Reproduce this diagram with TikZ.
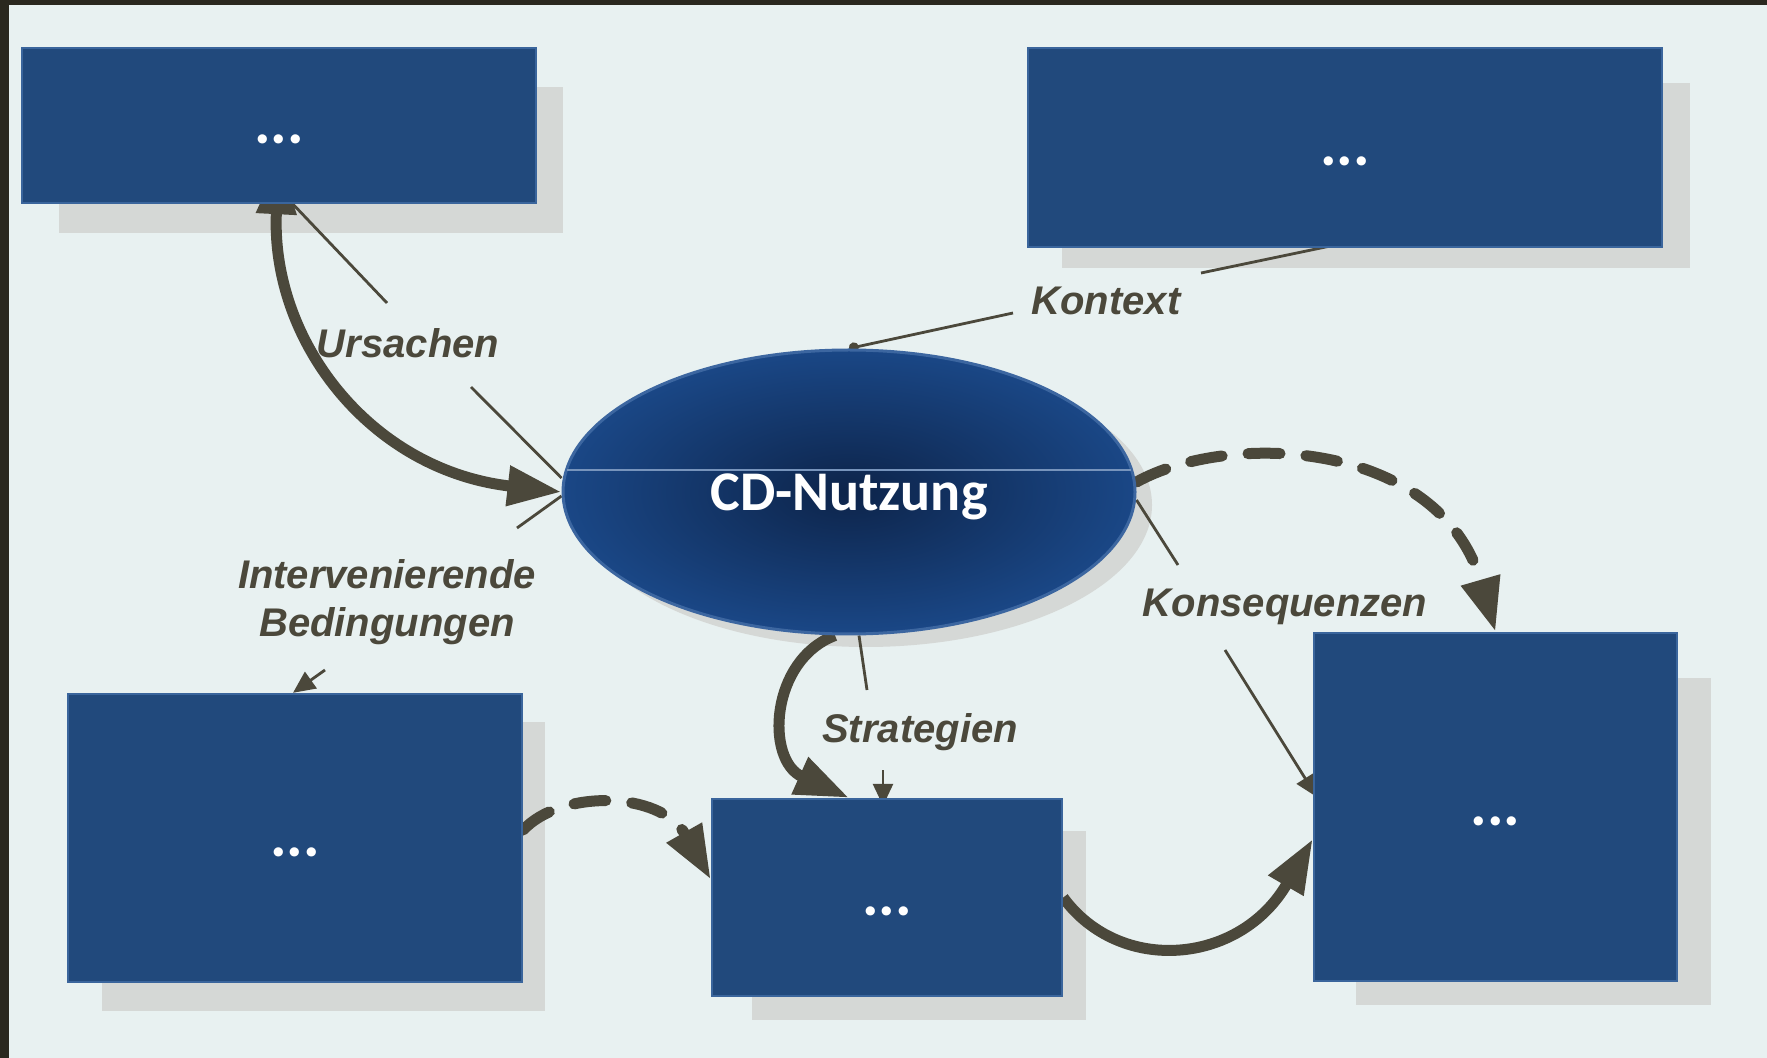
\documentclass[tikz,border=0pt]{standalone}
\usepackage{fontspec}
\newfontfamily\scanfont{Liberation Sans}
\newfontfamily\slidefont{Carlito}
\usetikzlibrary{arrows.meta,shapes.geometric,calc}

\definecolor{scanbg}{HTML}{E8F1F1}
\definecolor{frame}{HTML}{2A281F}
\definecolor{grain}{HTML}{D5D8D6}
\definecolor{ink}{HTML}{4B483B}
\definecolor{boxblue}{HTML}{21497C}
\definecolor{boxrim}{HTML}{3A659C}
\definecolor{ovalcore}{HTML}{0D244A}
\definecolor{ovaledge}{HTML}{1A4786}
\definecolor{ovalrim}{HTML}{3C66A0}

\pgfdeclarelayer{paper}
\pgfdeclarelayer{scan}
\pgfsetlayers{paper,scan,main}

\begin{document}
\begin{tikzpicture}[
        x=0.5pt, y=-0.5pt,
        >={Triangle[length=27pt,width=19pt]},
        panel/.style={
            rectangle,
            draw=boxrim,
            line width=1.2pt,
            fill=boxblue,
            text=white,
            font=\slidefont\bfseries\fontsize{31}{34}\selectfont,
            text height=18pt,
            text depth=0pt,
            inner sep=0pt
        },
        oval/.style={
            ellipse,
            draw=ovalrim,
            line width=1.5pt,
            shade,
            inner color=ovalcore,
            outer color=ovaledge,
            minimum width=286pt,
            minimum height=142pt,
            text=white,
            text depth=0pt,
            font=\slidefont\bfseries\fontsize{28}{32}\selectfont
        },
        tag/.style={
            font=\scanfont\bfseries\itshape\fontsize{20}{24.5}\selectfont,
            text=ink,
            inner sep=0pt,
            anchor=base,
            align=center
        },
        flow/.style={->, line width=5.5pt, draw=ink},
        dashflow/.style={flow, line cap=round, dash pattern=on 16pt off 13pt},
        leader/.style={line width=1.4pt, draw=ink},
        pointer/.style={leader, -{Triangle[length=11pt,width=10pt]}}
    ]

    \useasboundingbox (0,0) rectangle (1767,1058);

    % scanned page behind the slide
    \begin{pgfonlayer}{paper}
        \fill[scanbg] (0,0) rectangle (1767,1058);
        \fill[frame] (0,0) rectangle (9,1058);
        \fill[frame] (0,0) rectangle (1767,5);
        \fill[grain] (59,87) rectangle (563,233);
        \fill[grain] (1062,83) rectangle (1690,268);
        \fill[grain] (102,722) rectangle (545,1011);
        \fill[grain] (752,831) rectangle (1086,1020);
        \fill[grain] (1356,678) rectangle (1711,1005);
        \fill[grain] (866,505) ellipse [x radius=286, y radius=142];
    \end{pgfonlayer}

    \node[panel, minimum width=257pt, minimum height=77.5pt] (ursache)    at (279,125.5)  {...};
    \node[panel, minimum width=317pt, minimum height=99.5pt] (kontextbox) at (1345,147.5) {...};
    \node[panel, minimum width=227pt, minimum height=144pt]  (bedingung)  at (295,838)    {...};
    \node[panel, minimum width=175pt, minimum height=98.5pt] (strategie)  at (887,897.5)  {...};
    \node[panel, minimum width=181.5pt, minimum height=174pt] (konsequenz) at (1495.5,807) {...};

    \node[oval] (nutzung) at (849,492) {CD-Nutzung};
    \draw[line width=0.6pt, ovalrim!70!white] ($(nutzung.center)+(-282,-22)$) -- ($(nutzung.center)+(282,-22)$);

    \node[tag] (ursachen)       at (408,358)  {Ursachen};
    \node[tag] (kontext)        at (1106,315) {Kontext};
    \node[tag] (intervenierend) at (387,637)  {Intervenierende\\Bedingungen};
    \node[tag] (strategien)     at (920,742)  {Strategien};
    \node[tag] (konsequenzen)   at (1285,617) {Konsequenzen};

    % leader ends beside the labels
    \coordinate (ursachen-in)   at (387,303);
    \coordinate (ursachen-out)  at (471,387);
    \coordinate (kontext-in)    at (1201,273);
    \coordinate (kontext-out)   at (1013,313);
    \coordinate (bedingung-in)  at (517,528);
    \coordinate (bedingung-out) at (325,670);
    \coordinate (strategien-in) at (867,690);
    \coordinate (strategien-out) at (883,770);
    \coordinate (konsequenz-in) at (1178,565);
    \coordinate (konsequenz-out) at (1225,650);

    \begin{pgfonlayer}{scan}
        \draw[flow, <->] ([yshift=22pt]ursache.south) .. controls (270,340) and (370,470) .. (nutzung.west);
        \draw[flow] ([xshift=-7pt]nutzung.south) .. controls (770,660) and (765,760) .. ([xshift=-19pt]strategie.north);
        \draw[dashflow] ([yshift=5pt]nutzung.east) .. controls (1230,430) and (1440,440) .. (konsequenz.north);
        \draw[flow] (strategie.east) .. controls (1120,975) and (1240,965) .. ([yshift=-16pt]konsequenz.west);
        \draw[dashflow] ([yshift=4pt]bedingung.east) .. controls (560,790) and (660,790) .. ([yshift=9pt]strategie.west);

        \draw[leader] ([xshift=7pt]ursache.south) -- (ursachen-in);
        \draw[leader] (ursachen-out) -- ([yshift=7pt]nutzung.west);
        \draw[leader, -{Circle[length=5pt]}] (kontext-out) -- (nutzung.north);
        \draw[leader] (kontext-in) -- ([xshift=-3pt,yshift=2pt]kontextbox.south);
        \draw[leader] ([yshift=-2pt]nutzung.west) -- (bedingung-in);
        \draw[pointer] (bedingung-out) -- ([xshift=-1pt]bedingung.north);
        \draw[leader] ([xshift=5pt]nutzung.south) -- (strategien-in);
        \draw[pointer] (strategien-out) -- ([xshift=-2pt,yshift=-4pt]strategie.north);
        \draw[leader] ([yshift=-4pt]nutzung.east) -- (konsequenz-in);
        \draw[pointer] (konsequenz-out) -- ([xshift=2pt,yshift=5pt]konsequenz.west);
    \end{pgfonlayer}

\end{tikzpicture}
\end{document}
